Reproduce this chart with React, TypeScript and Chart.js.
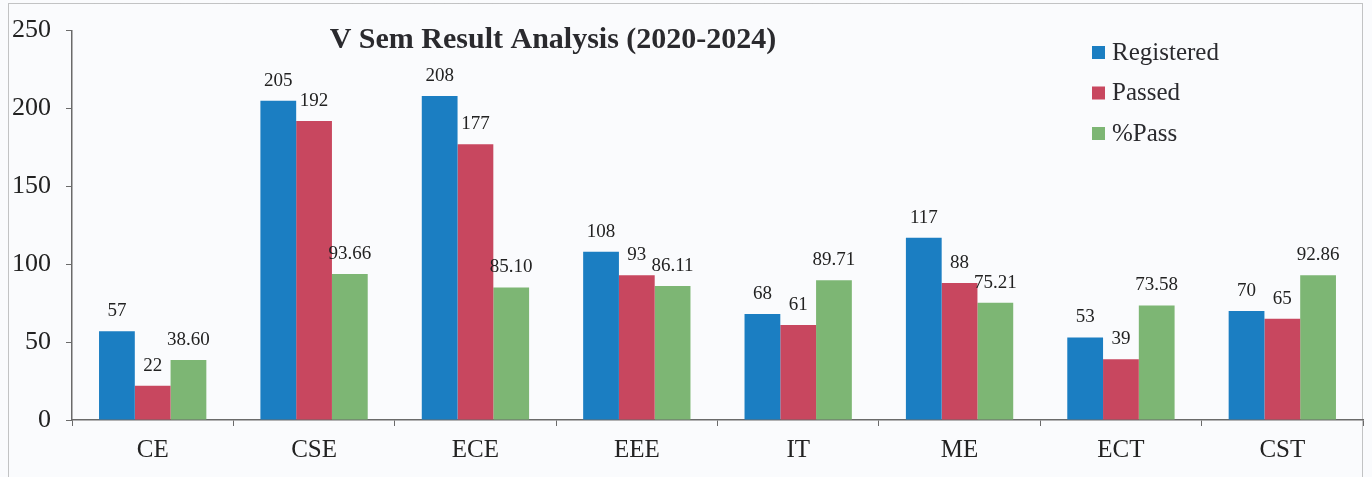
import React, { useEffect, useRef } from "react";
import { Chart, registerables } from "chart.js";

Chart.register(...registerables);

const categories = ["CE", "CSE", "ECE", "EEE", "IT", "ME", "ECT", "CST"];
const registered = [57, 205, 208, 108, 68, 117, 53, 70];
const passed = [22, 192, 177, 93, 61, 88, 39, 65];
const passPct = [38.6, 93.66, 85.1, 86.11, 89.71, 75.21, 73.58, 92.86];
const seriesNames = ["Registered", "Passed", "%Pass"];
const seriesColors = ["#1b7ec2", "#c8475f", "#7db674"];
const titleText = "V Sem Result Analysis (2020-2024)";

const FONT = "'Liberation Serif', 'Times New Roman', serif";

const framePlugin = {
  id: "frame",
  beforeDraw(chart: any) {
    const ctx = chart.ctx;
    ctx.save();
    ctx.fillStyle = "#fafbfd";
    ctx.fillRect(0, 0, chart.width, chart.height);
    ctx.strokeStyle = "#8a8a8a";
    ctx.lineWidth = 1;
    ctx.setLineDash([1, 1]);
    ctx.strokeRect(8.5, 3.5, 1354, 520);
    ctx.restore();
  },
};

const labelsPlugin = {
  id: "valueLabels",
  afterDatasetsDraw(chart: any) {
    const ctx = chart.ctx;
    ctx.save();
    ctx.font = `19px ${FONT}`;
    ctx.fillStyle = "#222";
    ctx.textAlign = "center";
    ctx.textBaseline = "alphabetic";
    chart.data.datasets.forEach((ds: any, i: number) => {
      const meta = chart.getDatasetMeta(i);
      meta.data.forEach((bar: any, j: number) => {
        const v = ds.data[j];
        const txt = i === 2 ? v.toFixed(2) : String(v);
        ctx.fillText(txt, bar.x, bar.y - 15);
      });
    });
    ctx.restore();
  },
};

const titleLegendPlugin = {
  id: "titleLegend",
  afterDraw(chart: any) {
    const ctx = chart.ctx;
    ctx.save();
    ctx.font = `bold 30px ${FONT}`;
    ctx.fillStyle = "#2a2a2e";
    ctx.textAlign = "center";
    ctx.textBaseline = "alphabetic";
    ctx.fillText(titleText, 553, 48);

    ctx.font = `25px ${FONT}`;
    ctx.textAlign = "left";
    ctx.textBaseline = "middle";
    chart.data.datasets.forEach((ds: any, i: number) => {
      const cy = 52 + i * 40.5;
      ctx.fillStyle = seriesColors[i];
      ctx.fillRect(1092, cy - 6, 13, 13);
      ctx.fillStyle = "#2a2a2e";
      ctx.fillText(seriesNames[i], 1112, cy + 1);
    });
    ctx.restore();
  },
};

export default function App() {
  const ref = useRef<HTMLCanvasElement>(null);
  useEffect(() => {
    if (!ref.current) return;
    const chart = new Chart(ref.current, {
      type: "bar",
      data: {
        labels: categories,
        datasets: [registered, passed, passPct].map((d, i) => ({
          label: seriesNames[i],
          data: d,
          backgroundColor: seriesColors[i],
          borderWidth: 0,
          categoryPercentage: 0.665,
          barPercentage: 1,
        })),
      },
      options: {
        animation: false,
        responsive: false,
        maintainAspectRatio: false,
        layout: { padding: { top: 28, right: 9, left: 0, bottom: 0 } },
        plugins: {
          legend: { display: false },
          title: { display: false },
          tooltip: { enabled: false },
        },
        scales: {
          x: {
            grid: {
              display: true,
              drawOnChartArea: false,
              drawTicks: true,
              tickLength: 6,
              color: "#6a6a6a",
              offset: true,
            },
            border: { display: true, color: "#6a6a6a", width: 1.5 },
            ticks: {
              font: { family: FONT, size: 25 },
              color: "#222",
              padding: 9,
            },
            afterFit(scale: any) {
              scale.height = 57;
            },
          },
          y: {
            min: 0,
            max: 250,
            ticks: {
              stepSize: 50,
              font: { family: FONT, size: 26 },
              color: "#222",
              padding: 15,
            },
            grid: {
              display: true,
              drawOnChartArea: false,
              drawTicks: true,
              tickLength: 6,
              color: "#6a6a6a",
            },
            border: { display: true, color: "#6a6a6a", width: 1.5 },
            afterFit(scale: any) {
              scale.width = 72;
            },
          },
        },
      },
      plugins: [framePlugin, labelsPlugin, titleLegendPlugin],
    } as any);
    return () => chart.destroy();
  }, []);
  return (
    <div style={{ position: "fixed", left: 0, top: 0, width: 1372, height: 477 }}>
      <canvas ref={ref} width={1372} height={477} style={{ display: "block" }} />
    </div>
  );
}
